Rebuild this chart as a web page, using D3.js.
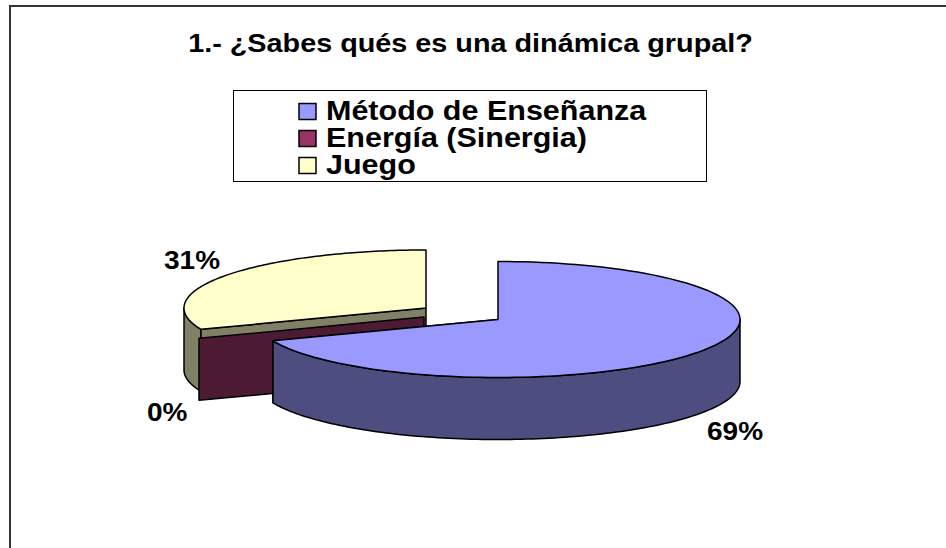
<!DOCTYPE html>
<html><head><meta charset="utf-8">
<script src="https://cdn.jsdelivr.net/npm/d3@7/dist/d3.min.js"></script>
<style>html,body{margin:0;padding:0;background:#fff}svg{display:block}text{font-family:"Liberation Sans",Arial,sans-serif;font-weight:bold;fill:#000}</style>
</head><body><svg id="c" width="946" height="548"></svg>
<script>
const titleText = "1.- ¿Sabes qués es una dinámica grupal?";
const categories = ["Método de Enseñanza", "Energía (Sinergia)", "Juego"];
const values = [69, 0.0001, 31];
const pctLabels = ["69%", "0%", "31%"];
const topColors = ["#9999ff", "#993366", "#ffffcc"];
const sideColors = ["#4d4d80", "#4d1a33", "#808066"];

const svg = d3.select("#c");
const rx = 242, ry = 58, depth = 62;
const centers = [[498, 319.5], [424, 317], [426, 308]];
const labelPos = [[707, 440], [147, 421], [164, 269]];

// text widened horizontally, like the reference's face
function wideText(x, y, size, sx, str, anchor) {
  return svg.append("text").attr("transform", `translate(${x},${y}) scale(${sx},1)`)
    .attr("font-size", size).attr("text-anchor", anchor || "start").text(str);
}

// frame
svg.append("path").attr("d", "M10,548V6H946").attr("fill", "none").attr("stroke", "#333").attr("stroke-width", 2);

wideText(470.5, 52, 26.5, 28.8 / 26.5, titleText, "middle");

// legend
svg.append("rect").attr("x", 233.5).attr("y", 90.5).attr("width", 473).attr("height", 91)
  .attr("fill", "#fff").attr("stroke", "#000").attr("stroke-width", 1);
const ly = d3.scalePoint().domain(categories).range([111.5, 165.5]);
categories.forEach((c, i) => {
  svg.append("rect").attr("x", 299).attr("y", ly(c) - 8).attr("width", 17).attr("height", 16)
    .attr("fill", topColors[i]).attr("stroke", "#000").attr("stroke-width", 1.5);
  wideText(326, ly(c) + 8, 27, 30.5 / 27, c);
});

// pie
const pie = d3.pie().sort(null).value(d => d)(values);
const px = (i, a, dz = 0) => [centers[i][0] + rx * Math.sin(a), centers[i][1] - ry * Math.cos(a) + dz];
const line = d3.line();
const arcPts = (i, a0, a1, dz = 0) => d3.range(0, 121).map(k => px(i, a0 + (a1 - a0) * k / 120, dz));
const stroke = (sel) => sel.attr("stroke", "#000").attr("stroke-width", 1.5).attr("stroke-linejoin", "round");

function face(i, a) {
  const c = centers[i], e = px(i, a);
  stroke(svg.append("path")).attr("fill", sideColors[i])
    .attr("d", line([c, e, [e[0], e[1] + depth], [c[0], c[1] + depth]]) + "Z");
}
function wall(i, a0, a1) {
  const t = arcPts(i, a0, a1), b = arcPts(i, a0, a1, depth).reverse();
  stroke(svg.append("path")).attr("fill", sideColors[i]).attr("d", line(t.concat(b)) + "Z");
}
function topFace(i) {
  const p = pie[i];
  stroke(svg.append("path")).attr("fill", topColors[i])
    .attr("d", line([centers[i]].concat(arcPts(i, p.startAngle, p.endAngle))) + "Z");
}

// Juego (back slice)
const yj = pie[2];
wall(2, yj.startAngle, 1.5 * Math.PI);
face(2, yj.startAngle);
topFace(2);
// Energía (0 % slice): only its cut face shows
face(1, pie[1].startAngle);
// Método
const m = pie[0];
face(0, m.endAngle);
wall(0, Math.PI * 0.5, m.endAngle);
topFace(0);

pctLabels.forEach((t, i) => {
  wideText(labelPos[i][0], labelPos[i][1], 26.5, 28 / 26.5, t);
});
</script></body></html>
